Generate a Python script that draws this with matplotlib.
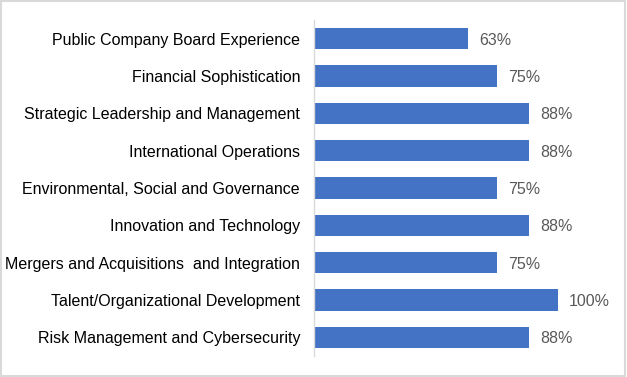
import matplotlib
matplotlib.use("Agg")
import matplotlib.pyplot as plt
from matplotlib.patches import Rectangle

plt.rcParams['font.family'] = ['Liberation Sans', 'DejaVu Sans']

categories = [
    "Public Company Board Experience",
    "Financial Sophistication",
    "Strategic Leadership and Management",
    "International Operations",
    "Environmental, Social and Governance",
    "Innovation and Technology",
    "Mergers and Acquisitions  and Integration",
    "Talent/Organizational Development",
    "Risk Management and Cybersecurity",
]
values = [63, 75, 88, 88, 75, 88, 75, 100, 88]
value_labels = ["63%", "75%", "88%", "88%", "75%", "88%", "75%", "100%", "88%"]

fig = plt.figure(figsize=(6.27, 3.77), dpi=100)
ax = fig.add_axes([314 / 627, 1 - 356 / 377, 293 / 627, 336 / 377])

ypos = list(range(len(categories)))
ax.barh(ypos, values, height=0.58, color="#4472C4")
for y, v, lab in zip(ypos, values, value_labels):
    ax.text(v + 4.5, y + 0.04, lab, va="center", ha="left", fontsize=11.5, color="#595959")

ax.set_xlim(0, 120)
ax.set_ylim(len(categories) - 0.5, -0.5)
ax.set_yticks(ypos)
ax.set_yticklabels(categories, fontsize=11.5, color="#000000")
ax.tick_params(axis="y", length=0, pad=10)
ax.set_xticks([])
for s in ["top", "right", "bottom"]:
    ax.spines[s].set_visible(False)
ax.spines["left"].set_color("#D9D9D9")
ax.spines["left"].set_linewidth(1)

fig.patches.append(Rectangle((0.002, 0.003), 0.995, 0.994, transform=fig.transFigure,
                             fill=False, edgecolor="#D9D9D9", linewidth=1.5))

fig.savefig("out.png", dpi=100)
